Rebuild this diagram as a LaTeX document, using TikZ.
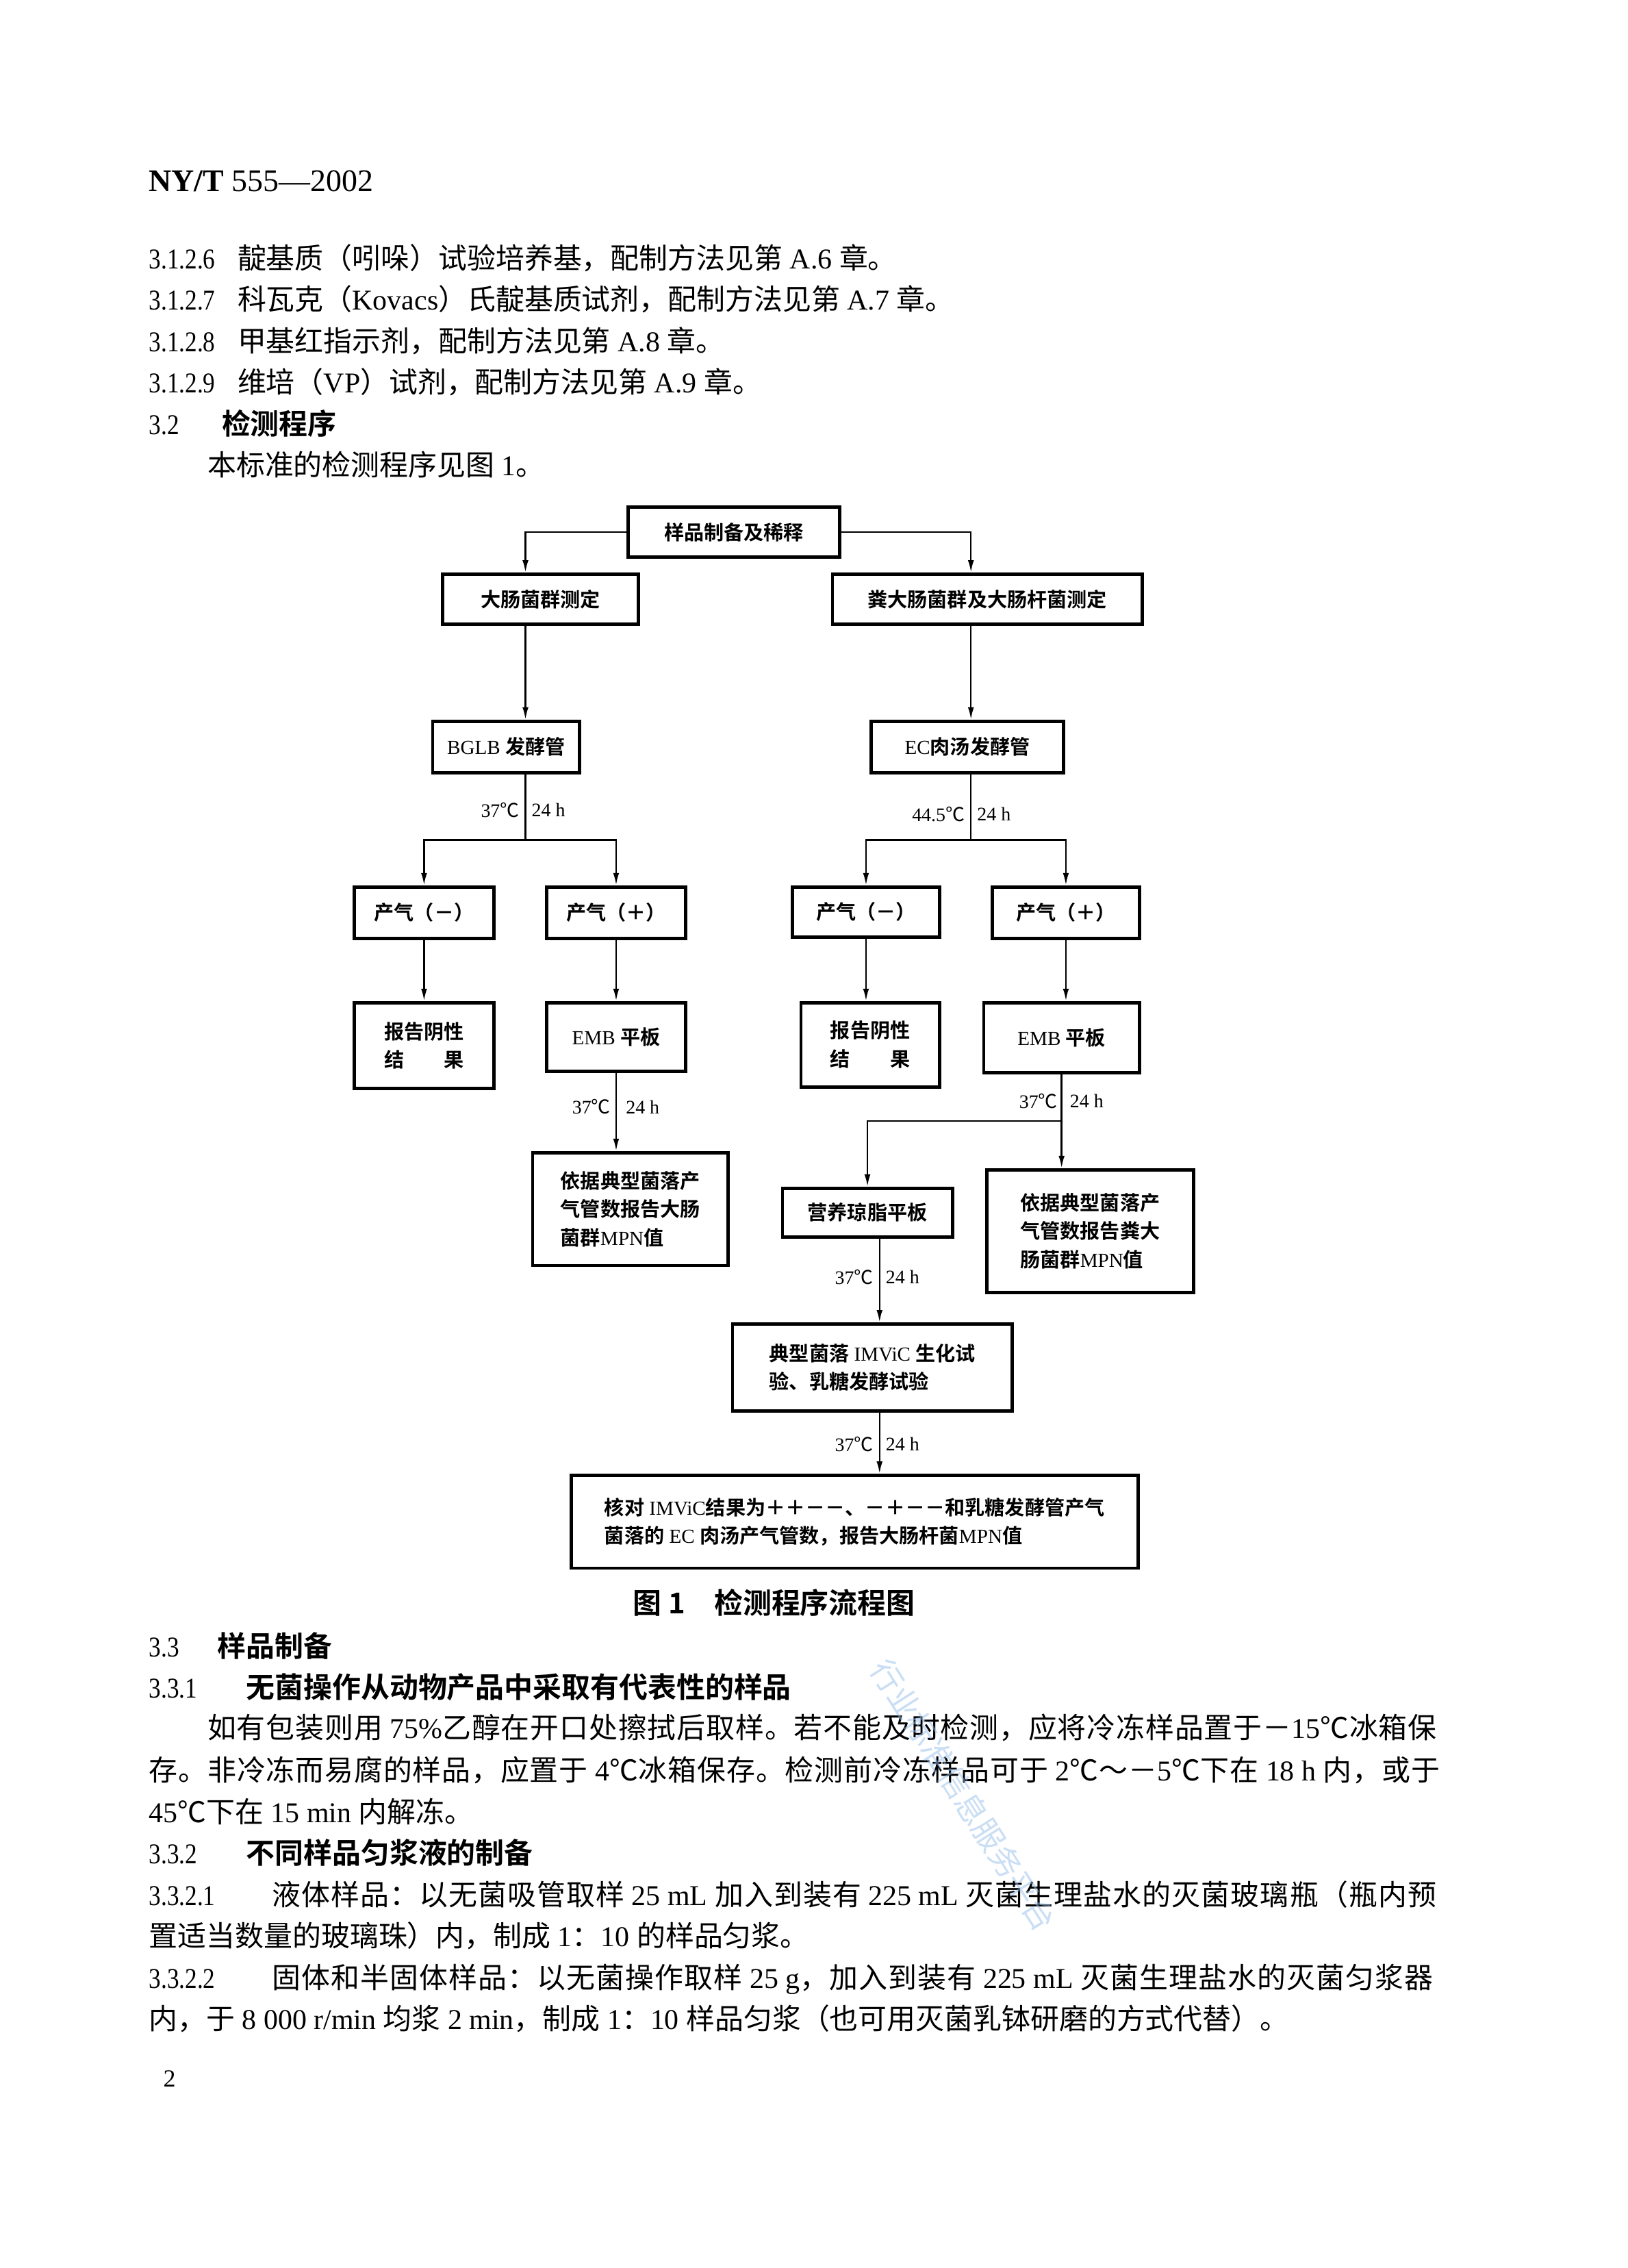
\documentclass[tikz,border=0pt]{standalone}
\usepackage{graphicx}
\usepackage{fontspec}
\setmainfont{Liberation Serif}
\newfontfamily\cjk{Noto Sans CJK SC}
\newfontfamily\cjkbold{Noto Sans CJK SC Bold}
\newfontfamily\cjkLa{Noto Sans CJK SC}[LetterSpace=2.1]
\newfontfamily\cjkLb{Noto Sans CJK SC}[LetterSpace=2.7]
\usetikzlibrary{arrows.meta}
\XeTeXinterchartokenstate=1
\newXeTeXintercharclass\CJKc
\newcount\cjkcnt
\cjkcnt=32
\loop\XeTeXcharclass\cjkcnt=0 \advance\cjkcnt by 1 \ifnum\cjkcnt<"2E80 \repeat
\cjkcnt="2E80
\loop\XeTeXcharclass\cjkcnt=\CJKc\advance\cjkcnt by 1 \ifnum\cjkcnt<"A000 \repeat
\cjkcnt="FF00
\loop\XeTeXcharclass\cjkcnt=\CJKc\advance\cjkcnt by 1 \ifnum\cjkcnt<"FFF0 \repeat
\XeTeXcharclass"2103=\CJKc
\XeTeXinterchartoks 0 \CJKc={\begingroup\cjk}
\XeTeXinterchartoks 4095 \CJKc={\begingroup\cjk}
\XeTeXinterchartoks \CJKc 0={\endgroup}
\XeTeXinterchartoks \CJKc 4095={\endgroup}
\newcommand\hb[1]{{\let\cjk\cjkbold #1}}
\newcommand\num[1]{\scalebox{0.84}[1]{#1}}
\tikzset{
  fbx/.style={draw, line width=1.2pt, inner sep=0pt, align=center,
    font=\fontsize{7.3}{10.4}\selectfont\let\cjk\cjkbold},
  arr/.style={line width=0.6pt, -{Latex[length=4.5pt,width=2.2pt]}},
  ln/.style={line width=0.6pt},
  lbl/.style={inner sep=0pt, font=\fontsize{7}{8}\selectfont},
  bodytxt/.style={inner sep=0pt, anchor=base west, font=\fontsize{10.5}{13}\selectfont},
  wideA/.style={font=\fontsize{10.5}{13}\selectfont\let\cjk\cjkLa},
  wideB/.style={font=\fontsize{10.5}{13}\selectfont\let\cjk\cjkLb},
}
\newcommand\mybox[7][]{\node[fbx,minimum width={(#5-#3)*0.5225pt},minimum height={(#6-#4)*0.5225pt},#1] (#2) at ({(#3+#5)/2},{(#4+#6)/2}) {#7};}
\begin{document}
\begin{tikzpicture}[x=0.5225pt,y=-0.5225pt]
\fill[white] (0,0) rectangle (1140,1588);
\useasboundingbox (0,0) rectangle (1140,1588);

% ---------- header and text before the figure ----------
\node[bodytxt,font=\fontsize{11.5}{13}\selectfont] (hdr) at (104,134) {{\bfseries NY/T} 555—2002};
\node[bodytxt] (n1) at (104,188) {\num{3.1.2.6}};
\node[bodytxt] (t1) at (166,188) {靛基质（吲哚）试验培养基，配制方法见第 A.6 章。};
\node[bodytxt] (n2) at (104,217) {\num{3.1.2.7}};
\node[bodytxt] (t2) at (166,217) {科瓦克（Kovacs）氏靛基质试剂，配制方法见第 A.7 章。};
\node[bodytxt] (n3) at (104,246) {\num{3.1.2.8}};
\node[bodytxt] (t3) at (166,246) {甲基红指示剂，配制方法见第 A.8 章。};
\node[bodytxt] (n4) at (104,275) {\num{3.1.2.9}};
\node[bodytxt] (t4) at (166,275) {维培（VP）试剂，配制方法见第 A.9 章。};
\node[bodytxt] (n5) at (104,304) {\num{3.2}};
\node[bodytxt] (t5) at (155,304) {\hb{检测程序}};
\node[bodytxt] (t6) at (145,333) {本标准的检测程序见图 1。};

% ---------- flowchart boxes ----------
\mybox{A}{440}{355}{588}{390}{样品制备及稀释}
\mybox{B}{310}{402}{447}{437}{大肠菌群测定}
\mybox{C}{583}{402}{800}{437}{粪大肠菌群及大肠杆菌测定}
\mybox{D}{303}{505}{406}{541}{BGLB 发酵管}
\mybox{E}{610}{505}{745}{541}{EC肉汤发酵管}
\mybox{F1}{248}{621}{346}{657}{产气（－）}
\mybox{F2}{383}{621}{480}{657}{产气（＋）}
\mybox{F3}{555}{621}{658}{656}{产气（－）}
\mybox{F4}{695}{621}{798}{657}{产气（＋）}
\mybox{G1}{248}{702}{346}{762}{报告阴性\\\makebox[4em][s]{结\hfill 果}}
\mybox{G2}{383}{702}{480}{750}{EMB 平板}
\mybox{G3}{561}{702}{658}{761}{报告阴性\\\makebox[4em][s]{结\hfill 果}}
\mybox{G4}{689}{702}{798}{751}{EMB 平板}
\mybox[align=left]{H1}{373}{807}{510}{886}{依据典型菌落产\\气管数报告大肠\\菌群MPN值}
\mybox{I}{548}{832}{667}{866}{营养琼脂平板}
\mybox[align=left]{H2}{691}{819}{836}{905}{依据典型菌落产\\气管数报告粪大\\肠菌群MPN值}
\mybox[align=left]{J}{513}{927}{709}{988}{典型菌落 IMViC 生化试\\验、乳糖发酵试验}
\mybox[align=left]{K}{400}{1033}{797}{1098}{核对 IMViC结果为＋＋－－、－＋－－和乳糖发酵管产气\\菌落的 EC 肉汤产气管数，报告大肠杆菌MPN值}

% ---------- helper coordinates ----------
\coordinate (cL) at (368,0);
\coordinate (cR) at (680,0);
\coordinate (cM) at (616,0);
\coordinate (jL) at (368,588);
\coordinate (jR) at (680,588);
\coordinate (r785) at (0,785);
\coordinate (jR2) at (G4.south |- r785);

% ---------- connectors ----------
\draw[arr] (A.west) -| (B.north -| cL);
\draw[arr] (A.east) -| (C.north -| cR);
\draw[arr] (B.south -| cL) -- (D.north -| cL);
\draw[arr] (C.south -| cR) -- (E.north -| cR);
\draw[ln] (D.south -| cL) -- (jL);
\draw[arr] (jL) -| (F1.north);
\draw[arr] (jL) -| (F2.north);
\draw[arr] (F1.south) -- (G1.north);
\draw[arr] (F2.south) -- (G2.north);
\draw[arr] (G2.south) -- (G2.south |- H1.north);
\draw[ln] (E.south -| cR) -- (jR);
\draw[arr] (jR) -| (F3.north);
\draw[arr] (jR) -| (F4.north);
\draw[arr] (F3.south) -- (F3.south |- G3.north);
\draw[arr] (F4.south) -- (F4.south |- G4.north);
\draw[ln] (G4.south) -- (jR2);
\draw[arr] (jR2) -| (I.north);
\draw[arr] (jR2) -- (jR2 |- H2.north);
\draw[arr] (I.south -| cM) -- (J.north -| cM);
\draw[arr] (J.south -| cM) -- (K.north -| cM);

% ---------- connector labels ----------
\node[lbl,anchor=east] (la1) at (364,567) {37℃};
\node[lbl,anchor=west] (lb1) at (372,567) {24 h};
\node[lbl,anchor=east] (la2) at (676,570) {44.5℃};
\node[lbl,anchor=west] (lb2) at (684,570) {24 h};
\node[lbl,anchor=east] (la3) at (428,775) {37℃};
\node[lbl,anchor=west] (lb3) at (438,775) {24 h};
\node[lbl,anchor=east] (la4) at (741,771) {37℃};
\node[lbl,anchor=west] (lb4) at (749,771) {24 h};
\node[lbl,anchor=east] (la5) at (612,894) {37℃};
\node[lbl,anchor=west] (lb5) at (620,894) {24 h};
\node[lbl,anchor=east] (la6) at (612,1011) {37℃};
\node[lbl,anchor=west] (lb6) at (620,1011) {24 h};

% ---------- caption ----------
\node[inner sep=0pt,font=\fontsize{10.5}{13}\selectfont\let\cjk\cjkbold] (cap) at (542,1122) {图 {\cjkbold 1}\quad 检测程序流程图};

% ---------- text after the figure ----------
\node[bodytxt] (n7) at (104,1160) {\num{3.3}};
\node[bodytxt] (t7) at (152,1160) {\hb{样品制备}};
\node[bodytxt] (n8) at (104,1189) {\num{3.3.1}};
\node[bodytxt] (t8) at (172,1189) {\hb{无菌操作从动物产品中采取有代表性的样品}};
\node[bodytxt,wideA] (p1) at (145,1217) {如有包装则用 75\%乙醇在开口处擦拭后取样。若不能及时检测，应将冷冻样品置于－15℃冰箱保};
\node[bodytxt,wideA] (p2) at (104,1247) {存。非冷冻而易腐的样品，应置于 4℃冰箱保存。检测前冷冻样品可于 2℃～－5℃下在 18 h 内，或于};
\node[bodytxt] (p3) at (104,1276) {45℃下在 15 min 内解冻。};
\node[bodytxt] (n9) at (104,1305) {\num{3.3.2}};
\node[bodytxt] (t9) at (172,1305) {\hb{不同样品匀浆液的制备}};
\node[bodytxt] (n10) at (104,1334) {\num{3.3.2.1}};
\node[bodytxt,wideB] (p4) at (190,1334) {液体样品：以无菌吸管取样 25 mL 加入到装有 225 mL 灭菌生理盐水的灭菌玻璃瓶（瓶内预};
\node[bodytxt] (p5) at (104,1363) {置适当数量的玻璃珠）内，制成 1：10 的样品匀浆。};
\node[bodytxt] (n11) at (104,1392) {\num{3.3.2.2}};
\node[bodytxt,wideB] (p6) at (190,1392) {固体和半固体样品：以无菌操作取样 25 g，加入到装有 225 mL 灭菌生理盐水的灭菌匀浆器};
\node[bodytxt] (p7) at (104,1421) {内，于 8 000 r/min 均浆 2 min，制成 1：10 样品匀浆（也可用灭菌乳钵研磨的方式代替）。};
\node[bodytxt,font=\fontsize{9}{10}\selectfont] (pg) at (114,1461) {2};

% ---------- watermark ----------
\node[rotate=-57.5,text={rgb,255:red,150;green,190;blue,235},opacity=0.5,inner sep=0pt,font=\fontsize{11.5}{12}\selectfont] (wm) at (675,1257) {行业标准信息服务平台};
\end{tikzpicture}
\end{document}
